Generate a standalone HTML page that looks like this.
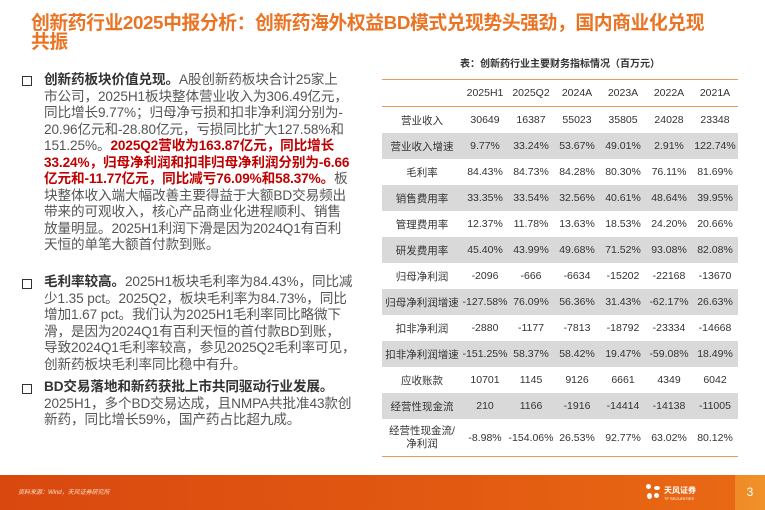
<!DOCTYPE html>
<html><head><meta charset="utf-8"><style>
body{margin:0;width:765px;height:510px;background:#fff;position:relative;overflow:hidden;font-family:"Liberation Sans","Noto Sans CJK SC",sans-serif}
.title{position:absolute;left:31px;top:13px;width:730px;color:#ea7424;font-weight:bold;font-size:18.8px;line-height:19px;letter-spacing:-0.4px;white-space:nowrap}
.sec{position:absolute;left:44px;width:330px;font-size:13.6px;line-height:16.5px;color:#555;white-space:nowrap;letter-spacing:-0.1px}
.sec b{color:#333}
.r{color:#c00000;font-weight:bold}
.sq{position:absolute;left:22px;width:8px;height:8px;border:1.5px solid #333}
.cap{position:absolute;left:380px;width:360px;text-align:center;top:55px;font-size:10px;font-weight:bold;color:#333}
table{position:absolute;left:382px;top:79px;width:356px;table-layout:fixed;border-collapse:collapse;font-size:10.5px;color:#333;border-top:1px solid #ea9a5a;border-bottom:1.5px solid #ea9a5a}
td{text-align:center;padding:0;height:26px;white-space:nowrap;overflow:visible}
tr.h td{height:26px;border-bottom:1px solid #ea9a5a}
tr.g td{background:#d9d9d9}
.foot{position:absolute;left:0;top:475px;width:765px;height:35px;background:linear-gradient(90deg,#d9480f,#e25a12 60%,#ea6a14)}
.pg{position:absolute;right:0;top:475px;width:30px;height:35px;background:linear-gradient(90deg,#ef8a28,#f0922a);color:#fff;font-size:12px;text-align:center;line-height:35px}
</style></head><body>
<div class="title">创新药行业2025中报分析：创新药海外权益BD模式兑现势头强劲，国内商业化兑现<br>共振</div>
<div class="sq" style="top:76px"></div>
<div class="sec" style="top:72px"><b>创新药板块价值兑现。</b>A股创新药板块合计25家上<br>市公司，2025H1板块整体营业收入为306.49亿元，<br>同比增长9.77%；归母净亏损和扣非净利润分别为-<br>20.96亿元和-28.80亿元，亏损同比扩大127.58%和<br>151.25%。<span class="r">2025Q2营收为163.87亿元，同比增长<br>33.24%，归母净利润和扣非归母净利润分别为-6.66<br>亿元和-11.77亿元，同比减亏76.09%和58.37%。</span>板<br>块整体收入端大幅改善主要得益于大额BD交易频出<br>带来的可观收入，核心产品商业化进程顺利、销售<br>放量明显。2025H1利润下滑是因为2024Q1有百利<br>天恒的单笔大额首付款到账。</div>
<div class="sq" style="top:279px"></div>
<div class="sec" style="top:274px"><b>毛利率较高。</b>2025H1板块毛利率为84.43%，同比减<br>少1.35 pct。2025Q2，板块毛利率为84.73%，同比<br>增加1.67 pct。我们认为2025H1毛利率同比略微下<br>滑，是因为2024Q1有百利天恒的首付款BD到账，<br>导致2024Q1毛利率较高，参见2025Q2毛利率可见，<br>创新药板块毛利率同比稳中有升。</div>
<div class="sq" style="top:384px"></div>
<div class="sec" style="top:379px"><b>BD交易落地和新药获批上市共同驱动行业发展。</b><br>2025H1，多个BD交易达成，且NMPA共批准43款创<br>新药，同比增长59%，国产药占比超九成。</div>
<div class="cap">表：创新药行业主要财务指标情况（百万元）</div>
<table>
<colgroup><col style="width:80px"><col style="width:46px"><col style="width:46px"><col style="width:46px"><col style="width:46px"><col style="width:46px"><col style="width:46px"></colgroup>
<tr class="h"><td></td><td>2025H1</td><td>2025Q2</td><td>2024A</td><td>2023A</td><td>2022A</td><td>2021A</td></tr>
<tr><td>营业收入</td><td>30649</td><td>16387</td><td>55023</td><td>35805</td><td>24028</td><td>23348</td></tr>
<tr class="g"><td>营业收入增速</td><td>9.77%</td><td>33.24%</td><td>53.67%</td><td>49.01%</td><td>2.91%</td><td>122.74%</td></tr>
<tr><td>毛利率</td><td>84.43%</td><td>84.73%</td><td>84.28%</td><td>80.30%</td><td>76.11%</td><td>81.69%</td></tr>
<tr class="g"><td>销售费用率</td><td>33.35%</td><td>33.54%</td><td>32.56%</td><td>40.61%</td><td>48.64%</td><td>39.95%</td></tr>
<tr><td>管理费用率</td><td>12.37%</td><td>11.78%</td><td>13.63%</td><td>18.53%</td><td>24.20%</td><td>20.66%</td></tr>
<tr class="g"><td>研发费用率</td><td>45.40%</td><td>43.99%</td><td>49.68%</td><td>71.52%</td><td>93.08%</td><td>82.08%</td></tr>
<tr><td>归母净利润</td><td>-2096</td><td>-666</td><td>-6634</td><td>-15202</td><td>-22168</td><td>-13670</td></tr>
<tr class="g"><td>归母净利润增速</td><td>-127.58%</td><td>76.09%</td><td>56.36%</td><td>31.43%</td><td>-62.17%</td><td>26.63%</td></tr>
<tr><td>扣非净利润</td><td>-2880</td><td>-1177</td><td>-7813</td><td>-18792</td><td>-23334</td><td>-14668</td></tr>
<tr class="g"><td>扣非净利润增速</td><td>-151.25%</td><td>58.37%</td><td>58.42%</td><td>19.47%</td><td>-59.08%</td><td>18.49%</td></tr>
<tr><td>应收账款</td><td>10701</td><td>1145</td><td>9126</td><td>6661</td><td>4349</td><td>6042</td></tr>
<tr class="g"><td>经营性现金流</td><td>210</td><td>1166</td><td>-1916</td><td>-14414</td><td>-14138</td><td>-11005</td></tr>
<tr><td style="height:37px;line-height:13px">经营性现金流/<br>净利润</td><td>-8.98%</td><td>-154.06%</td><td>26.53%</td><td>92.77%</td><td>63.02%</td><td>80.12%</td></tr>
</table>
<div class="foot"></div>
<div style="position:absolute;left:18px;top:487px;font-size:6px;color:#fde0c8;font-style:italic">资料来源：Wind，天风证券研究所</div>
<div style="position:absolute;left:646px;top:484px;width:14px;height:16px;">
<div style="position:absolute;left:0;top:0;width:5px;height:5px;border-radius:50%;background:#fff"></div>
<div style="position:absolute;left:8px;top:2px;width:6px;height:4px;border-radius:50%;background:#fff"></div>
<div style="position:absolute;left:1px;top:9px;width:5px;height:6px;border-radius:50%;background:#fff"></div>
<div style="position:absolute;left:8px;top:9px;width:5px;height:5px;border-radius:50%;background:#fff"></div></div>
<div style="position:absolute;left:664px;top:485px;font-size:8px;color:#fff;font-weight:bold">天风证券</div>
<div style="position:absolute;left:664px;top:496px;font-size:4px;color:#fff">TF SECURITIES</div>
<div class="pg">3</div>
</body></html>
